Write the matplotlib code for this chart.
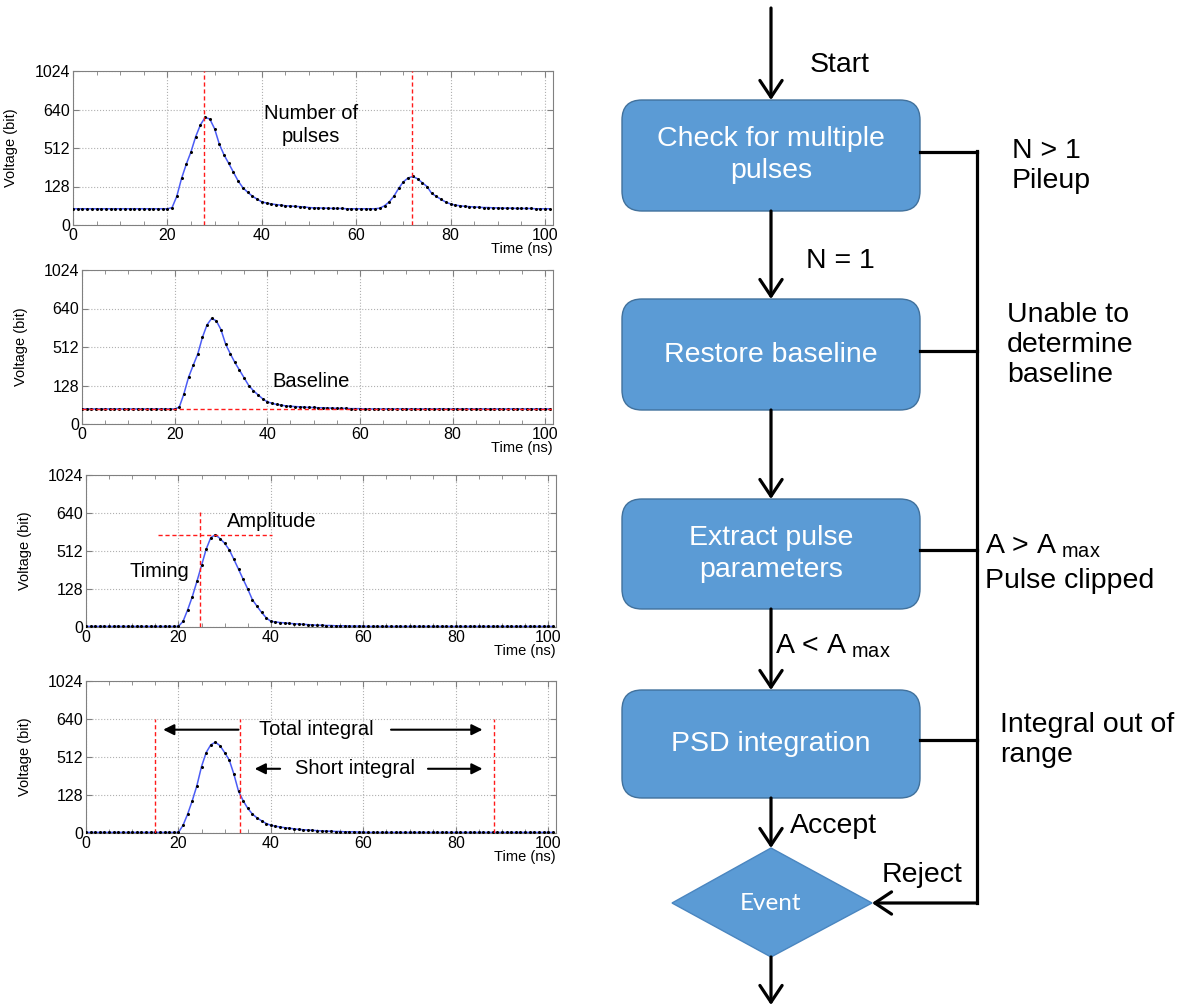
#Pulse processing: example waveforms (left) and event selection flowchart (right)
import matplotlib.pyplot as plt
import numpy as np
from matplotlib.patches import FancyBboxPatch, Polygon, FancyArrowPatch

plt.rcParams['font.family'] = ['Liberation Sans', 'DejaVu Sans']
plt.rcParams['mathtext.fontset'] = 'custom'
plt.rcParams['mathtext.rm'] = 'Liberation Sans'
plt.rcParams['mathtext.it'] = 'Liberation Sans:italic'

#1. Digitised waveforms, one sample per ns (0..101 ns), values in bit
time_ns = np.arange(0, 102)

v_pileup = ([54] * 21
            + [58, 96, 209, 350, 474, 550, 589, 614, 608, 576]
            + [525, 443, 358, 270, 182, 124, 109, 96, 86, 77]
            + [73, 70, 68, 66, 64, 63, 62, 61, 60, 58]
            + [57, 57, 56, 56, 55, 55, 55, 54, 54, 54]
            + [54, 54, 54, 54]
            + [56, 64, 77, 96, 122, 175, 213, 228, 205, 166]
            + [128, 105, 95, 85, 76, 70, 66, 64, 62, 61]
            + [60, 59, 58, 58, 57, 57, 56, 56, 56, 55]
            + [55, 55, 55, 54, 54, 54, 54])

v_baseline = ([50] * 21
              + [56, 100, 209, 328, 443, 544, 586, 607, 599, 570]
              + [522, 447, 358, 282, 205, 128, 111, 97, 84, 74]
              + [69, 65, 63, 60, 59, 58, 57, 56, 55, 55]
              + [54, 54, 53, 53, 52, 52, 52, 51, 51, 51]
              + [50] * 41)

v_params = ([2] * 21
            + [19, 58, 102, 205, 366, 518, 557, 567, 554, 538]
            + [516, 428, 328, 227, 128, 92, 70, 49, 31, 19]
            + [17, 15, 14, 12, 11, 10, 9, 8, 7, 6]
            + [6, 5, 5, 4, 4, 4, 3, 3, 3, 3]
            + [2] * 41)

v_psd = ([2] * 21
         + [26, 64, 109, 224, 416, 527, 553, 562, 550, 527]
         + [481, 339, 166, 109, 83, 64, 51, 41, 32, 26]
         + [23, 20, 18, 16, 14, 12, 11, 10, 9, 8]
         + [7, 6, 6, 5, 5, 4, 4, 4, 3, 3]
         + [2] * 41)

# markers
pulse_times = [27.8, 71.8]
baseline_level = 50
timing_ns = 24.6
amplitude = 567
integral_bounds = [15, 33.3, 88.3]

levels = [0, 128, 512, 640, 1024]

#2. Flowchart text
box_labels = ['Check for multiple\npulses', 'Restore baseline',
              'Extract pulse\nparameters', 'PSD integration']
reject_labels = ['N > 1\nPileup', 'Unable to\ndetermine\nbaseline',
                 None, 'Integral out of\nrange']


def fwd(v):
    return np.interp(v, levels, np.arange(len(levels)))


def inv(p):
    return np.interp(p, np.arange(len(levels)), levels)


fig = plt.figure(figsize=(11.96, 10.07), dpi=100)

# full-figure axes in pixel units for the flowchart
fa = fig.add_axes([0, 0, 1, 1])
fa.set_xlim(0, 1196)
fa.set_ylim(1007, 0)
fa.axis('off')


def setup(ax):
    ax.set_yscale('function', functions=(fwd, inv))
    ax.set_xlim(0, 101.7)
    ax.set_ylim(0, 1024)
    ax.set_yticks(levels)
    ax.set_yticklabels([str(l) for l in levels])
    ax.set_xticks(np.arange(0, 101, 20))
    ax.set_xticks(np.arange(0, 101, 5), minor=True)
    ax.tick_params(direction='in', top=True, right=True, labelsize=11.5,
                   pad=2, length=4, color='#808080')
    ax.tick_params(which='minor', direction='in', top=True, length=3, color='#808080')
    ax.grid(True, ls=':', color='#b0b0b0', lw=0.8)
    for s in ax.spines.values():
        s.set_color('#808080')
    ax.set_ylabel('Voltage (bit)', fontsize=10.5)
    ax.yaxis.set_label_coords(-0.115, 0.5)
    ax.text(1.0, -0.11, 'Time (ns)', transform=ax.transAxes, ha='right',
            va='top', fontsize=10.5)


def waveform(ax, v):
    ax.plot(time_ns, v, color='#4b5cf5', lw=1.1, zorder=3)
    ax.plot(time_ns, v, 'o', color='k', ms=1.2, zorder=4)


red = dict(color='#ff1a1a', lw=1, ls=(0, (3, 2)), zorder=5)
note = dict(fontsize=14.5, ha='center', va='center')

# px -> figure fractions: [left, bottom, width, height]
ax1 = fig.add_axes([73 / 1196, 1 - 225 / 1007, 480 / 1196, 154 / 1007])
ax2 = fig.add_axes([82 / 1196, 1 - 424 / 1007, 471 / 1196, 154 / 1007])
ax3 = fig.add_axes([86 / 1196, 1 - 627 / 1007, 470 / 1196, 152 / 1007])
ax4 = fig.add_axes([86 / 1196, 1 - 833 / 1007, 470 / 1196, 152 / 1007])

for ax in (ax1, ax2, ax3, ax4):
    setup(ax)

# Number of pulses
waveform(ax1, v_pileup)
ax1.vlines(pulse_times, 0, 1024, **red)
ax1.text(50.5, 589, 'Number of\npulses', linespacing=1.25, **note)

# Baseline
ax2.hlines(baseline_level, 0, 101.7, **red)
waveform(ax2, v_baseline)
ax2.text(49.5, 163, 'Baseline', **note)

# Timing / amplitude
waveform(ax3, v_params)
ax3.vlines(timing_ns, 0, 652, **red)
ax3.hlines(amplitude, 15.6, 40.3, **red)
ax3.text(15.8, 305, 'Timing', **note)
ax3.text(30.4, 611, 'Amplitude', fontsize=14.5, ha='left', va='center')

# Integrals
waveform(ax4, v_psd)
ax4.vlines(integral_bounds, 0, 640, **red)
ap = dict(arrowstyle='-|>', color='k', lw=1.5, mutation_scale=16, shrinkA=0, shrinkB=0)
ax4.annotate('', xy=(16.7, 604), xytext=(33.0, 604), arrowprops=ap)
ax4.annotate('', xy=(85.8, 604), xytext=(66.0, 604), arrowprops=ap)
ax4.text(49.8, 604, 'Total integral', **note)
ax4.annotate('', xy=(36.5, 393), xytext=(42.0, 393), arrowprops=ap)
ax4.annotate('', xy=(85.8, 393), xytext=(74.0, 393), arrowprops=ap)
ax4.text(58.2, 393, 'Short integral', **note)

#3. Flowchart
cx = 771
box_x0, box_x1 = 622, 920
box_tops = [100, 299, 499, 690]
box_bots = [211, 410, 609, 798]
side_x = 977
fill, edge = '#5b9bd5', '#41719c'
lw = 2.3
fs = 20.5


def arrow(x0, y0, x1, y1):
    fa.add_patch(FancyArrowPatch((x0, y0), (x1, y1),
                                 arrowstyle='->,head_length=0.6,head_width=0.4',
                                 mutation_scale=20, lw=lw, color='k',
                                 shrinkA=0, shrinkB=0))


for lab, t, b in zip(box_labels, box_tops, box_bots):
    fa.add_patch(FancyBboxPatch((box_x0, t), box_x1 - box_x0, b - t,
                                boxstyle='round,pad=0,rounding_size=20',
                                fc=fill, ec=edge, lw=1))
    fa.text(cx, (t + b) / 2, lab, color='white', fontsize=fs, ha='center',
            va='center', linespacing=1.3)
    # branch to the reject line
    fa.plot([box_x1, side_x], [(t + b) / 2 - 4, (t + b) / 2 - 4], 'k', lw=lw,
            solid_capstyle='projecting')

# diamond
dy = 903
fa.add_patch(Polygon([(cx - 99, dy), (cx, 848), (cx + 101, dy), (cx, 957)],
                     closed=True, fc=fill, ec='#4a86c0', lw=1))
fa.text(cx, dy, 'Event', color='white', fontsize=17.5, family=['Lato', 'DejaVu Sans'],
        ha='center', va='center')

# main flow
arrow(cx, 8, cx, 100)
for b, t in zip(box_bots[:-1], box_tops[1:]):
    arrow(cx, b, cx, t)
arrow(cx, box_bots[-1], cx, 848)
arrow(cx, 957, cx, 1005)

# reject line
fa.plot([side_x, side_x], [151, dy], 'k', lw=lw, solid_capstyle='projecting')
arrow(side_x, dy, cx + 101, dy)

lab = dict(fontsize=fs, color='k')
fa.text(810, 72, 'Start', va='baseline', **lab)
fa.text(806, 268, 'N = 1', va='baseline', **lab)
fa.text(775, 654, r'A < A$_{\ \mathrm{max}}$', va='baseline', **lab)
fa.text(790, 833, 'Accept', va='baseline', **lab)
fa.text(882, 882, 'Reject', va='baseline', **lab)
fa.text(1012, 166, reject_labels[0], va='center', linespacing=1.15, **lab)
fa.text(1007, 345, reject_labels[1], va='center', linespacing=1.2, **lab)
fa.text(985, 554, r'A > A$_{\ \mathrm{max}}$', va='baseline', **lab)
fa.text(985, 588, 'Pulse clipped', va='baseline', **lab)
fa.text(1000, 740, reject_labels[3], va='center', linespacing=1.25, **lab)

plt.savefig('out.png', dpi=100)
